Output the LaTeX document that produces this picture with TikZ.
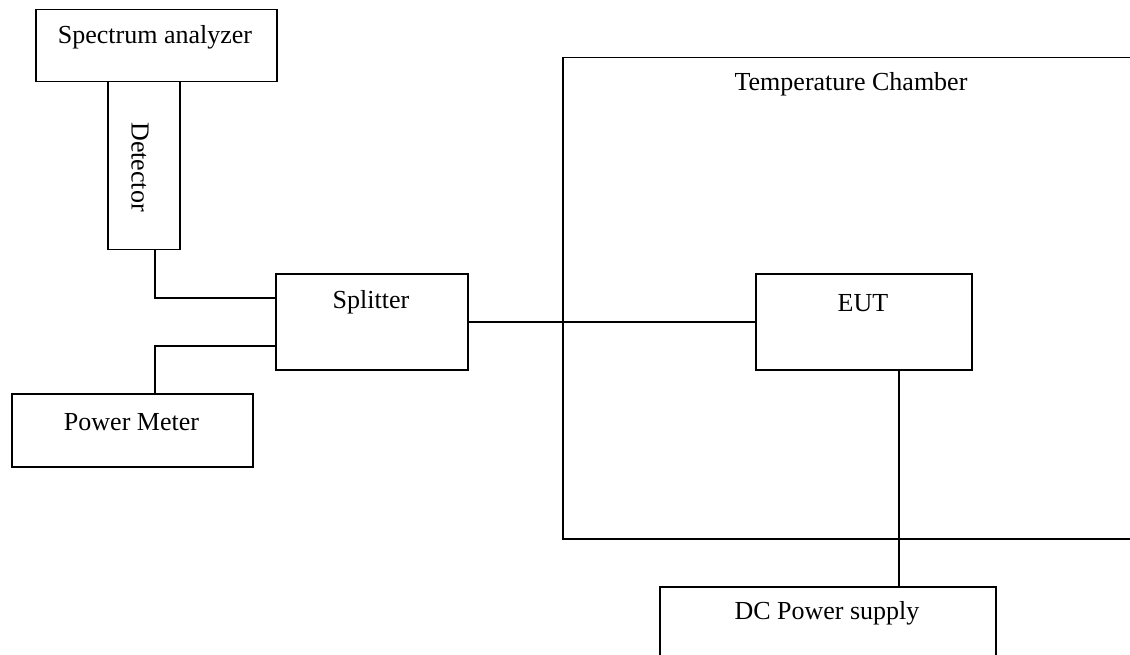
\documentclass[tikz,border=0pt]{standalone}
\usepackage{fontspec}
\setmainfont{Liberation Serif}
\begin{document}
\begin{tikzpicture}[x=1pt,y=-1pt,
  box/.style={draw, line width=1.5pt, rectangle, inner sep=0pt, anchor=north west},
  lbl/.style={inner sep=0pt, font=\fontsize{26}{30}\selectfont},
  wire/.style={line width=1.5pt}]
\useasboundingbox (0,0) rectangle (1130,655);
\clip (0,0) rectangle (1130,655);
% boxes
\node[box, minimum width=241pt, minimum height=72pt] (sa) at (35,9) {};
\node[lbl] (sa-t) at (155,37) {Spectrum analyzer};
\node[box, minimum width=72pt, minimum height=168pt] (det) at (107,81) {};
\node[lbl, rotate=-90] (det-t) at (140,167) {Detector};
\node[box, minimum width=241pt, minimum height=73pt] (pm) at (11,393) {};
\node[lbl] (pm-t) at (131.5,422) {Power Meter};
\node[box, minimum width=192pt, minimum height=96pt] (sp) at (275,273) {};
\node[lbl] (sp-t) at (371,302) {Splitter};
\node[box, minimum width=620pt, minimum height=481pt] (ch) at (562,57) {};
\node[lbl] (ch-t) at (851,84) {Temperature Chamber};
\node[box, minimum width=216pt, minimum height=96pt] (eut) at (755,273) {};
\node[lbl] (eut-t) at (863,303) {EUT};
\node[box, minimum width=336pt, minimum height=100pt] (dc) at (659,586) {};
\node[lbl] (dc-t) at (827,613) {DC Power supply};
% junctions
\coordinate (j1) at (155,298);
\coordinate (j2) at (155,346);
\coordinate (j3) at (899,450);
% connectors
\draw[wire] (det.south -| j1) -- (j1) -- (j1 -| sp.west);
\draw[wire] (pm.north -| j2) -- (j2) -- (j2 -| sp.west);
\draw[wire] (sp.east) -- (sp.east -| eut.west);
\draw[wire] (eut.south -| j3) -- (dc.north -| j3);
\end{tikzpicture}
\end{document}
